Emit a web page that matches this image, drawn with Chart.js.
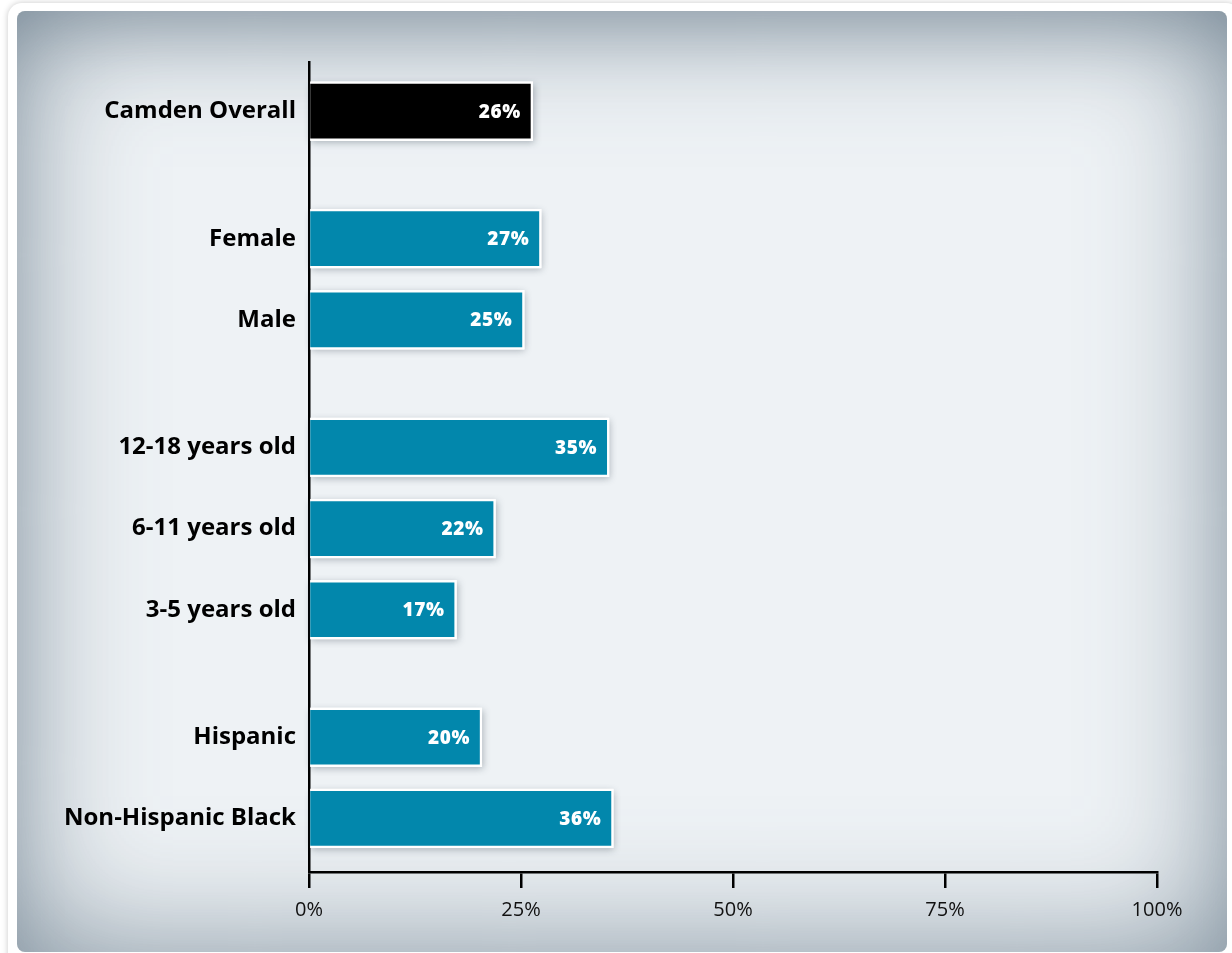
<!DOCTYPE html>
<html>
<head>
<meta charset="utf-8">
<script src="https://cdn.jsdelivr.net/npm/chart.js@4.4.1/dist/chart.umd.min.js"></script>
<style>
  html, body { margin: 0; padding: 0; background: #ffffff; }
  body { width: 1232px; height: 953px; position: relative; overflow: hidden; }
  .frame {
    position: absolute; left: 8px; top: 3px; width: 1232px; height: 970px;
    border-radius: 14px; background: #ffffff;
    box-shadow: 0 0 6px rgba(0, 0, 0, 0.22);
  }
  .panel {
    position: absolute; left: 17px; top: 11px; width: 1210px; height: 941px;
    border-radius: 8px;
    background: #eef2f5;
    box-shadow:
      inset 0 0 130px rgba(85, 105, 122, 0.72),
      inset 0 40px 70px -30px rgba(85, 105, 122, 0.35);
  }
  #chart { position: absolute; left: 0; top: 0; }
</style>
</head>
<body>
<div class="frame"></div>
<div class="panel"></div>
<canvas id="chart" width="1232" height="953"></canvas>
<script>
// Categories, grouped the way the chart spaces them
const groups = [
  ['Camden Overall'],
  ['Female', 'Male'],
  ['12-18 years old', '6-11 years old', '3-5 years old'],
  ['Hispanic', 'Non-Hispanic Black']
];
// Percent values, top to bottom
const values = [26.4, 27.4, 25.4, 35.4, 22.0, 17.4, 20.4, 35.9];
const xTicks = [0, 25, 50, 75, 100];

const GROUP_GAP = 0.57;   // extra space between groups, in rows
const TEAL = '#0287ac';

// Row positions on the index axis, built from the groups
const labels = [];
const rowPos = [];
let pos = 0;
groups.forEach((g, gi) => {
  if (gi > 0) pos += GROUP_GAP;
  g.forEach(name => {
    labels.push(name);
    rowPos.push(pos);
    pos += 1;
  });
});
const lastPos = rowPos[rowPos.length - 1];

// White backing with a soft drop shadow under each bar
const barShadow = {
  id: 'barShadow',
  beforeDatasetsDraw(chart) {
    const ctx = chart.ctx;
    ctx.save();
    ctx.shadowColor = 'rgba(40, 55, 70, 0.35)';
    ctx.shadowBlur = 7;
    ctx.shadowOffsetX = 1;
    ctx.shadowOffsetY = 2;
    ctx.fillStyle = '#ffffff';
    chart.getDatasetMeta(0).data.forEach(bar => {
      const h = bar.height;
      ctx.fillRect(bar.base, bar.y - h / 2, bar.x - bar.base, h);
    });
    ctx.restore();
  }
};

// Value labels inside the bar ends
const valueLabels = {
  id: 'valueLabels',
  afterDatasetsDraw(chart) {
    const ctx = chart.ctx;
    ctx.save();
    ctx.fillStyle = '#ffffff';
    ctx.font = '800 19px "Open Sans"';
    ctx.textAlign = 'right';
    ctx.textBaseline = 'middle';
    if ('letterSpacing' in ctx) ctx.letterSpacing = '0.6px';
    chart.getDatasetMeta(0).data.forEach((bar, i) => {
      ctx.fillText(Math.round(values[i]) + '%', bar.x - 12, bar.y + 1);
    });
    ctx.restore();
  }
};

new Chart(document.getElementById('chart').getContext('2d'), {
  type: 'bar',
  data: {
    datasets: [{
      data: values.map((v, i) => ({ x: v, y: rowPos[i] })),
      backgroundColor: values.map((v, i) => i === 0 ? '#000000' : TEAL),
      borderColor: '#ffffff',
      borderWidth: 2.5,
      borderSkipped: 'start',
      barThickness: 59
    }]
  },
  options: {
    indexAxis: 'y',
    responsive: false,
    animation: false,
    layout: { padding: { top: 62, right: 75, bottom: 0, left: 0 } },
    plugins: {
      legend: { display: false },
      tooltip: { enabled: false }
    },
    scales: {
      x: {
        type: 'linear',
        min: 0,
        max: 100,
        afterBuildTicks: scale => { scale.ticks = xTicks.map(v => ({ value: v })); },
        afterFit: scale => { scale.height = 81; },
        border: { display: true, color: '#000000', width: 2.5 },
        grid: {
          drawOnChartArea: false,
          drawTicks: true,
          tickLength: 16,
          color: '#000000',
          lineWidth: 2.5
        },
        ticks: {
          color: '#111111',
          padding: 10,
          font: { family: '"Open Sans"', size: 20 },
          callback: v => v + '%'
        }
      },
      y: {
        type: 'linear',
        reverse: true,
        offset: false,
        min: -0.606,
        max: lastPos + 0.66,
        z: 1,
        afterBuildTicks: scale => { scale.ticks = rowPos.map(v => ({ value: v })); },
        afterFit: scale => { scale.width = 309; },
        border: { display: true, color: '#000000', width: 2.5 },
        grid: { offset: false, drawOnChartArea: false, drawTicks: false },
        ticks: {
          autoSkip: false,
          color: '#000000',
          padding: 13,
          font: { family: '"Open Sans"', size: 24, weight: '700' },
          callback: (v, i) => labels[i]
        }
      }
    }
  },
  plugins: [barShadow, valueLabels]
});
</script>
</body>
</html>
